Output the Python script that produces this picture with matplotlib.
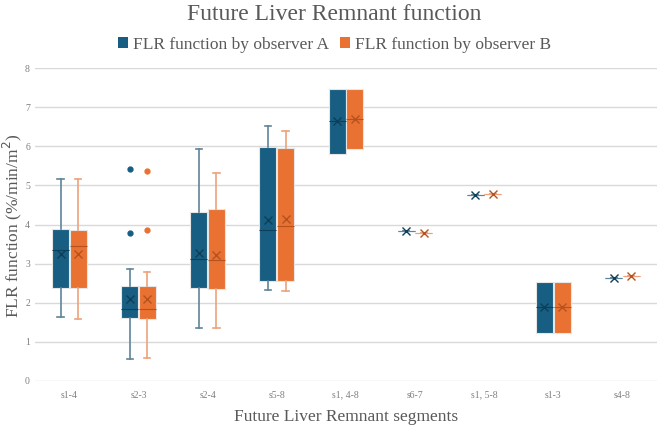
import matplotlib.pyplot as plt
from matplotlib.patches import Patch

plt.rcParams['font.family'] = ['Liberation Serif', 'DejaVu Serif']

segments = ['s1-4', 's2-3', 's2-4', 's5-8', 's1, 4-8', 's6-7', 's1, 5-8', 's1-3', 's4-8']

# observer A: whisker low, q1, median, q3, whisker high, mean, outliers
a_lo = [1.63, 0.55, 1.36, 2.32, 5.81, 3.84, 4.75, 1.22, 2.62]
a_q1 = [2.37, 1.61, 2.38, 2.55, 5.81, 3.84, 4.75, 1.22, 2.62]
a_med = [3.35, 1.83, 3.12, 3.85, 6.65, 3.84, 4.75, 1.88, 2.62]
a_q3 = [3.89, 2.42, 4.33, 5.99, 7.46, 3.84, 4.75, 2.52, 2.62]
a_hi = [5.16, 2.87, 5.93, 6.51, 7.46, 3.84, 4.75, 2.52, 2.62]
a_mean = [3.24, 2.09, 3.26, 4.12, 6.65, 3.84, 4.75, 1.88, 2.62]
a_out = [[], [5.42, 3.78], [], [], [], [], [], [], []]

# observer B
b_lo = [1.59, 0.58, 1.34, 2.29, 5.93, 3.78, 4.78, 1.23, 2.69]
b_q1 = [2.37, 1.59, 2.35, 2.55, 5.93, 3.78, 4.78, 1.23, 2.69]
b_med = [3.45, 1.83, 3.09, 3.96, 6.69, 3.78, 4.78, 1.88, 2.69]
b_q3 = [3.86, 2.42, 4.39, 5.95, 7.46, 3.78, 4.78, 2.52, 2.69]
b_hi = [5.16, 2.78, 5.31, 6.40, 7.46, 3.78, 4.78, 2.52, 2.69]
b_mean = [3.24, 2.09, 3.23, 4.15, 6.69, 3.78, 4.78, 1.88, 2.69]
b_out = [[], [5.37, 3.86], [], [], [], [], [], [], []]

blue = '#175E82'
orange = '#E97132'


def make_stats(lo, q1, med, q3, hi, mean, out):
    return [dict(whislo=lo[i], q1=q1[i], med=med[i], q3=q3[i], whishi=hi[i],
                 mean=mean[i], fliers=out[i]) for i in range(len(lo))]


def draw(ax, stats, pos, face, dark, whisk):
    res = ax.bxp(stats, positions=pos, widths=0.245, patch_artist=True, showmeans=True,
                 boxprops=dict(facecolor=face, edgecolor='#E6E6E6', linewidth=0.8),
                 medianprops=dict(color=dark, linewidth=0.8),
                 meanprops=dict(marker='x', markeredgecolor=dark, markersize=6, markeredgewidth=1.0),
                 whiskerprops=dict(color=whisk, linewidth=1.2),
                 capprops=dict(color=whisk, linewidth=1.2),
                 capwidths=0.09,
                 flierprops=dict(marker='o', markerfacecolor=face, markeredgecolor=face, markersize=3.5))
    # no cap where the whisker has no length (box reaches min/max)
    for i, st in enumerate(stats):
        if st['whislo'] == st['q1'] and st['q1'] != st['q3']:
            res['caps'][2 * i].set_visible(False)
        if st['whishi'] == st['q3'] and st['q1'] != st['q3']:
            res['caps'][2 * i + 1].set_visible(False)
        if st['q1'] == st['q3']:
            res['medians'][i].set_color(whisk)
            res['boxes'][i].set_edgecolor(whisk)


fig = plt.figure(figsize=(6.69, 4.26), dpi=100)
ax = fig.add_axes([0.052, 0.106, 0.930, 0.734])

x = list(range(len(segments)))
draw(ax, make_stats(a_lo, a_q1, a_med, a_q3, a_hi, a_mean, a_out),
     [i - 0.127 for i in x], blue, '#0E3F59', '#5F8499')
draw(ax, make_stats(b_lo, b_q1, b_med, b_q3, b_hi, b_mean, b_out),
     [i + 0.127 for i in x], orange, '#B5531F', '#EDA27C')

ax.set_xlim(-0.5, len(segments) - 0.5)
ax.set_ylim(0, 8)
ax.set_yticks(range(0, 9))
ax.set_xticks(x)
ax.set_xticklabels(segments)
ax.tick_params(axis='both', length=0, labelsize=7, colors='#7F7F7F')
ax.tick_params(axis='x', pad=7)
for s in ax.spines.values():
    s.set_visible(False)
ax.grid(axis='y', color='#D9D9D9', linewidth=1)
ax.set_axisbelow(True)

ax.set_xlabel('Future Liver Remnant segments', fontsize=12.5, color='#595959', labelpad=7)
fig.text(12 / 669, 1 - 226 / 426, 'FLR function (%/min/m$^2$)', fontsize=12.5, color='#595959',
         rotation=90, ha='center', va='center')
fig.text(0.5, 1 - 15 / 426, 'Future Liver Remnant function', fontsize=17, color='#595959',
         ha='center', va='center')

handles = [Patch(facecolor=blue, label='FLR function by observer A'),
           Patch(facecolor=orange, label='FLR function by observer B')]
fig.legend(handles=handles, loc='center', bbox_to_anchor=(0.5, 1 - 45 / 426), ncol=2, frameon=False,
           fontsize=12.5, labelcolor='#595959', handlelength=0.6, handleheight=0.6,
           handletextpad=0.3, columnspacing=0.6)

fig.savefig('out.png', dpi=100)
